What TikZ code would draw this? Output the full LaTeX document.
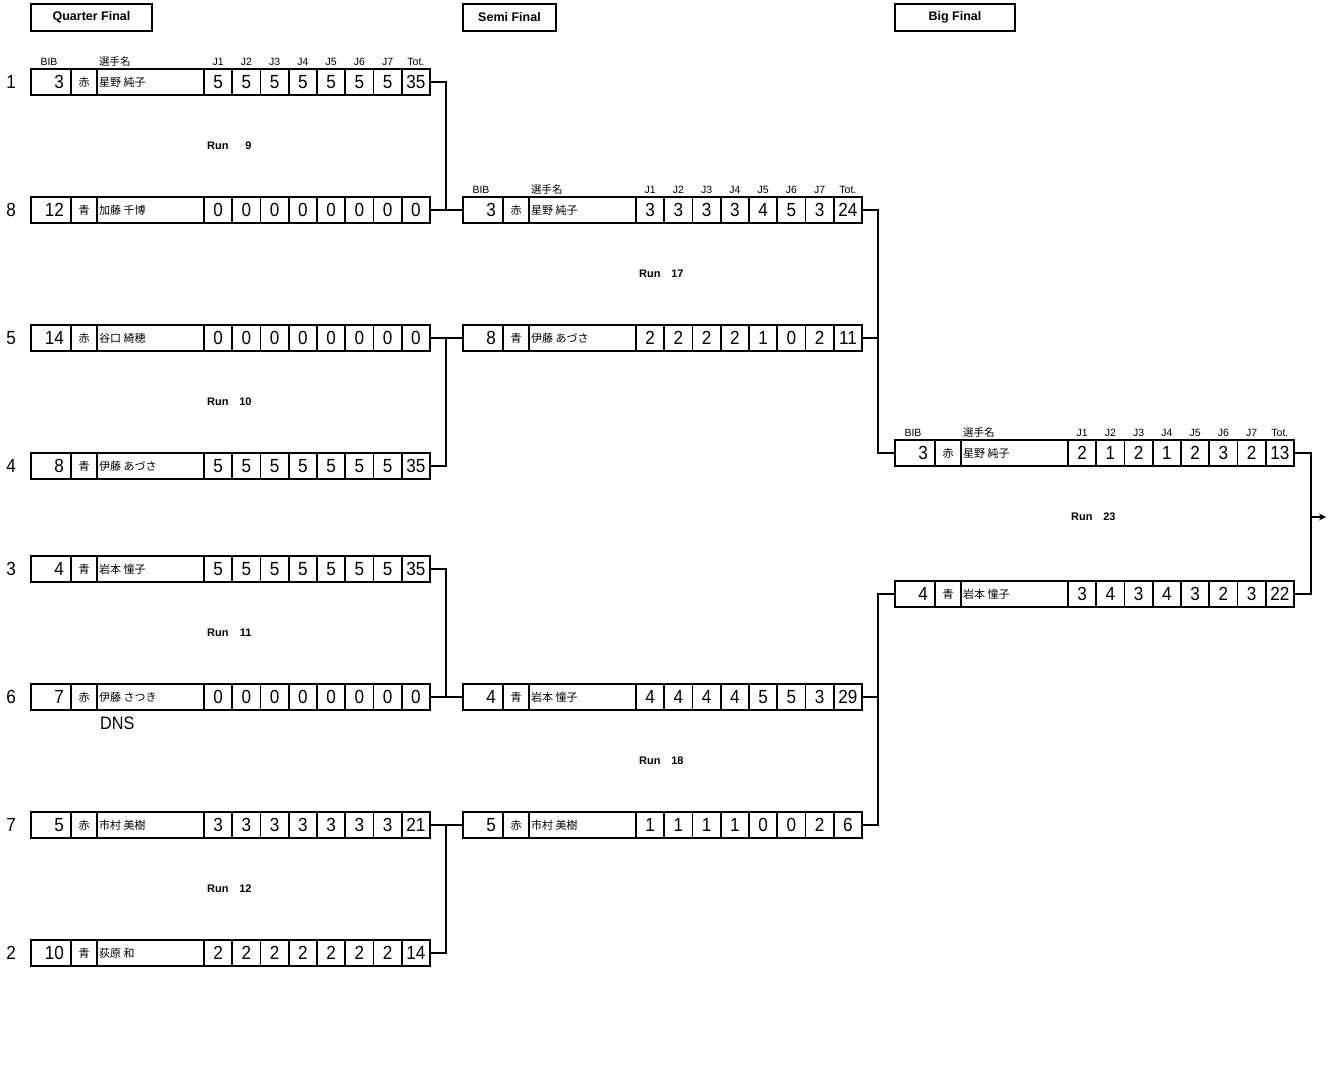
\documentclass[tikz,border=0pt]{standalone}
\usepackage{fontspec}
\setmainfont{Liberation Sans}
\newfontfamily\jpfont{Noto Sans CJK JP}
\newfontfamily\numfont[FakeStretch=0.9]{Liberation Sans}
\usepackage{tikz}
\usetikzlibrary{arrows.meta,positioning}

% one result line: node name, west point, bib, team, skier, marks (J1..J7, Tot.)
\newcommand{\scorerow}[6]{%
  \node[rowbox, anchor=west] (#1) at #2 {};
  \foreach \dx in {40,66,173,201.25,229.5,257.75,286,314.25,342.5,370.75}
    \draw[cellsep] ([xshift=\dx pt]#1.north west) -- ([xshift=\dx pt]#1.south west);
  \node[bibtxt, anchor=east] at ([xshift=33pt]#1.west) {#3};
  \node[teamtxt] at ([xshift=53pt]#1.west) {#4};
  \node[nametxt, anchor=west] at ([xshift=68pt]#1.west) {#5};
  \foreach \s [count=\k] in {#6}
    \node[marktxt] at ([xshift=158.875pt+\k*28.25pt]#1.west) {\s};
}
% column heads above the first line of a round
\newcommand{\headrow}[1]{%
  \node[hdrtxt] at ([xshift=18pt, yshift=7.5pt]#1.north west) {BIB};
  \node[hdrtxt, font=\jpfont\fontsize{10.5}{12}\selectfont, anchor=west]
    at ([xshift=68pt, yshift=7.5pt]#1.north west) {選手名};
  \foreach \s [count=\k] in {J1,J2,J3,J4,J5,J6,J7,Tot.}
    \node[hdrtxt] at ([xshift=158.875pt+\k*28.25pt, yshift=7.5pt]#1.north west) {\s};
}

\begin{document}
\begin{tikzpicture}[
    x=1pt, y=-1pt,
    >={Stealth[length=7pt, width=7pt]},
    rowbox/.style={draw, line width=2pt, minimum width=399pt, minimum height=26pt,
                   inner sep=0pt, outer sep=0pt},
    cellsep/.style={line width=1.6pt},
    bibtxt/.style={inner sep=0pt, font=\numfont\fontsize{19}{21}\selectfont},
    marktxt/.style={inner sep=0pt, font=\numfont\fontsize{19}{21}\selectfont},
    teamtxt/.style={inner sep=0pt, font=\jpfont\fontsize{11}{13}\selectfont},
    nametxt/.style={inner sep=0pt, font=\jpfont\fontsize{11}{13}\selectfont},
    hdrtxt/.style={inner sep=0pt, font=\fontsize{10.5}{12}\selectfont},
    seed/.style={inner sep=0pt, font=\numfont\fontsize{19}{21}\selectfont},
    runtxt/.style={inner sep=0pt, anchor=west, font=\bfseries\fontsize{11}{13}\selectfont},
    titlebox/.style={draw, line width=2pt, inner sep=0pt, minimum height=27pt,
                     font=\bfseries\fontsize{12.5}{15}\selectfont},
    link/.style={line width=2pt},
  ]
  \useasboundingbox (0,0) rectangle (1337,1070);
  %% ---- Round titles ----
  \node[titlebox, minimum width=121pt] (qf) at (91.5, 17.5) {Quarter Final};
  \node[titlebox, minimum width=93pt]  (sf) at (509.5,17.5) {Semi Final};
  \node[titlebox, minimum width=120pt] (bf) at (955,  17.5) {Big Final};
  %% ---- Quarter final ----
  \scorerow{q1}{(31,82)} {3} {赤}{星野 純子}  {5,5,5,5,5,5,5,35}
  \scorerow{q8}{(31,210)}{12}{青}{加藤 千博}  {0,0,0,0,0,0,0,0}
  \scorerow{q5}{(31,338)}{14}{赤}{谷口 綺穂}  {0,0,0,0,0,0,0,0}
  \scorerow{q4}{(31,466)}{8} {青}{伊藤 あづさ}{5,5,5,5,5,5,5,35}
  \scorerow{q3}{(31,569)}{4} {青}{岩本 憧子}  {5,5,5,5,5,5,5,35}
  \scorerow{q6}{(31,697)}{7} {赤}{伊藤 さつき}{0,0,0,0,0,0,0,0}
  \scorerow{q7}{(31,825)}{5} {赤}{市村 美樹}  {3,3,3,3,3,3,3,21}
  \scorerow{q2}{(31,953)}{10}{青}{荻原 和}    {2,2,2,2,2,2,2,14}
  \headrow{q1}
  % seeds
  \node[seed, left=15pt of q1] {1};
  \node[seed, left=15pt of q8] {8};
  \node[seed, left=15pt of q5] {5};
  \node[seed, left=15pt of q4] {4};
  \node[seed, left=15pt of q3] {3};
  \node[seed, left=15pt of q6] {6};
  \node[seed, left=15pt of q7] {7};
  \node[seed, left=15pt of q2] {2};
  \node[inner sep=0pt, anchor=west, font=\numfont\fontsize{18}{20}\selectfont]
    (dns) at ([xshift=69pt, yshift=-13pt]q6.south west) {DNS};
  %% ---- Semi final ----
  \scorerow{s1}{(463,210)}{3}{赤}{星野 純子}  {3,3,3,3,4,5,3,24}
  \scorerow{s2}{(463,338)}{8}{青}{伊藤 あづさ}{2,2,2,2,1,0,2,11}
  \scorerow{s3}{(463,697)}{4}{青}{岩本 憧子}  {4,4,4,4,5,5,3,29}
  \scorerow{s4}{(463,825)}{5}{赤}{市村 美樹}  {1,1,1,1,0,0,2,6}
  \headrow{s1}
  %% ---- Big final ----
  \scorerow{f1}{(895,453)}{3}{赤}{星野 純子}{2,1,2,1,2,3,2,13}
  \scorerow{f2}{(895,594)}{4}{青}{岩本 憧子}{3,4,3,4,3,2,3,22}
  \headrow{f1}
  %% ---- Run numbers ----
  \node[runtxt] (r9)  at (207, 146)  {Run\makebox[23pt][r]{9}};
  \node[runtxt] (r10) at (207, 402)  {Run\makebox[23pt][r]{10}};
  \node[runtxt] (r11) at (207, 633)  {Run\makebox[23pt][r]{11}};
  \node[runtxt] (r12) at (207, 889)  {Run\makebox[23pt][r]{12}};
  \node[runtxt] (r17) at (639, 274)  {Run\makebox[23pt][r]{17}};
  \node[runtxt] (r18) at (639, 761)  {Run\makebox[23pt][r]{18}};
  \node[runtxt] (r23) at (1071,517)  {Run\makebox[23pt][r]{23}};
  %% ---- Bracket lines ----
  \draw[link] (q1.east) -- ++(16,0) |- (s1.west);
  \draw[link] (q8.east) -- (s1.west);
  \draw[link] (q4.east) -- ++(16,0) |- (s2.west);
  \draw[link] (q5.east) -- (s2.west);
  \draw[link] (q3.east) -- ++(16,0) |- (s3.west);
  \draw[link] (q6.east) -- (s3.west);
  \draw[link] (q2.east) -- ++(16,0) |- (s4.west);
  \draw[link] (q7.east) -- (s4.west);
  \draw[link] (s1.east) -- ++(16,0) |- (f1.west);
  \draw[link] (s2.east) -- ++(16,0);
  \draw[link] (s4.east) -- ++(16,0) |- (f2.west);
  \draw[link] (s3.east) -- ++(16,0);
  \draw[link] (f1.east) -- ++(17,0) coordinate (fr) |- (f2.east);
  \coordinate (champ) at (1326,517);
  \draw[->, line width=1.4pt] (champ -| fr) -- (champ);
\end{tikzpicture}
\end{document}
